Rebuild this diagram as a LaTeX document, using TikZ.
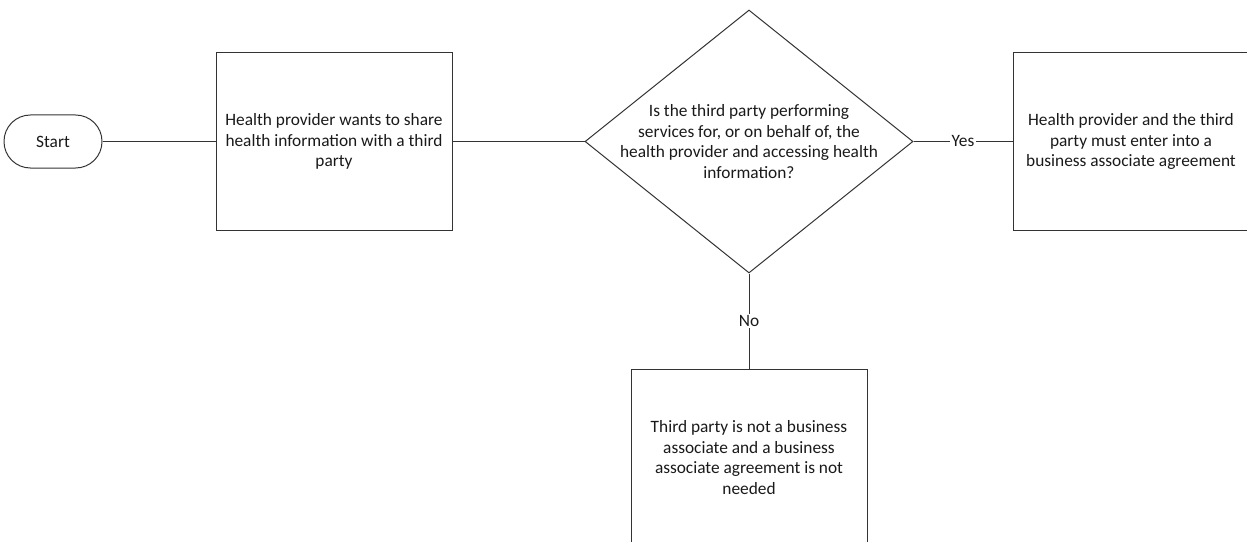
\documentclass[tikz,border=0pt]{standalone}
\usepackage{fontspec}
\setmainfont{Carlito}
\usetikzlibrary{shapes.geometric}
\begin{document}
\begin{tikzpicture}[x=0.75pt,y=-0.75pt,
  every node/.style={font=\fontsize{13}{15.3}\selectfont, text=black!90},
  line/.style={draw=black!80, line width=0.75pt},
  term/.style={line, rectangle, rounded corners=19.8pt, minimum width=73.5pt, minimum height=39.75pt, inner sep=0pt},
  proc/.style={line, rectangle, minimum width=177pt, minimum height=132.75pt, inner sep=0pt, align=center},
  dec/.style={line, diamond, minimum width=246pt, minimum height=197.25pt, inner sep=0pt},
  txt/.style={align=center, inner sep=0pt},
  lbl/.style={fill=white, inner sep=1pt}]
\useasboundingbox (0,0) rectangle (1247,542);
\clip (0,0) rectangle (1247,542);
\node[term] (start) at (53,141.5) {Start};
\node[proc] (share) at (334,141.5) {Health provider wants to share\\health information with a third\\party};
\node[dec] (q) at (749,141.5) {};
\node[txt] (qt) at (q.center) {Is the third party performing\\services for, or on behalf of, the\\health provider and accessing health\\information?};
\node[proc] (baa) at (1131,141.5) {Health provider and the third\\party must enter into a\\business associate agreement};
\node[proc] (nobaa) at (749,457.5) {Third party is not a business\\associate and a business\\associate agreement is not\\needed};
\draw[line] (start) -- (share);
\draw[line] (share) -- (q);
\draw[line] (q) -- node[lbl] {Yes} (baa);
\draw[line] (q) -- node[lbl] {No} (nobaa);
\end{tikzpicture}
\end{document}
